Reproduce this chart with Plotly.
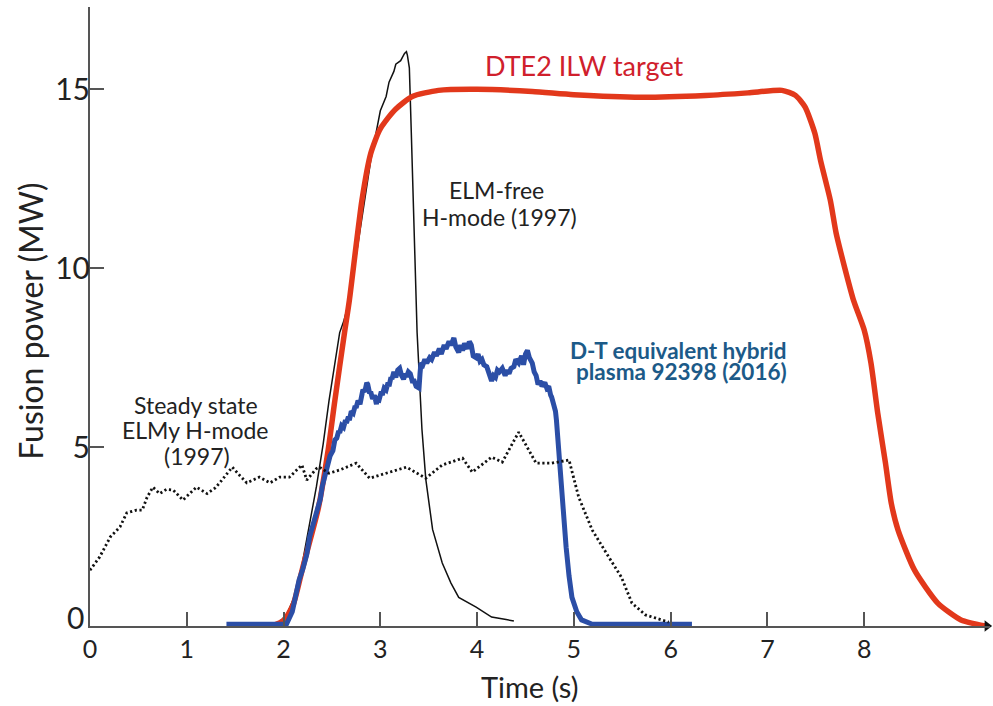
import plotly.graph_objects as go

# ---------------- data ----------------
target_t = [1.88, 2.0, 2.1, 2.2, 2.36, 2.46, 2.53, 2.63, 2.68, 2.81, 2.9, 2.99, 3.08, 3.16,
            3.33, 3.6, 4.0, 4.57, 5.0, 5.7, 6.36, 6.8, 7.15, 7.29, 7.39, 7.49, 7.55,
            7.65, 7.71, 7.80, 7.89, 8.0, 8.07, 8.14, 8.22, 8.28, 8.35, 8.52, 8.76, 9.0, 9.25]
target_p = [0.0, 0.15, 0.6, 1.65, 3.3, 4.9, 6.3, 8.2, 9.1, 11.9, 13.2, 13.85, 14.2, 14.45,
            14.8, 14.97, 15.0, 14.94, 14.85, 14.78, 14.83, 14.9, 14.97, 14.83, 14.5, 13.77,
            13.0, 11.9, 10.98, 10.0, 9.1, 8.27, 7.35, 5.95, 4.55, 3.43, 2.68, 1.56, 0.64,
            0.17, 0.0]

hybrid_t = [1.41, 2.03, 2.09, 2.16, 2.20, 2.24, 2.27, 2.30, 2.33, 2.35, 2.38, 2.40, 2.43,
            2.45, 2.48, 2.51, 2.53, 2.55, 2.57, 2.58, 2.60, 2.62, 2.64, 2.65, 2.67, 2.68,
            2.70, 2.72, 2.74, 2.75, 2.77, 2.79, 2.80, 2.82, 2.84, 2.86, 2.87, 2.89, 2.90,
            2.92, 2.94, 2.96, 2.97, 2.99, 3.01, 3.02, 3.04, 3.06, 3.08, 3.09, 3.11, 3.12,
            3.14, 3.16, 3.18, 3.20, 3.22, 3.24, 3.26, 3.27, 3.29, 3.31, 3.33, 3.35, 3.37,
            3.40, 3.41, 3.42, 3.44, 3.46, 3.48, 3.51, 3.53, 3.56, 3.58, 3.61, 3.63, 3.66,
            3.68, 3.71, 3.73, 3.76, 3.78, 3.81, 3.83, 3.85, 3.87, 3.90, 3.92, 3.94, 3.96,
            3.99, 4.01, 4.03, 4.05, 4.07, 4.10, 4.12, 4.15, 4.17, 4.19, 4.21, 4.23, 4.26,
            4.29, 4.31, 4.33, 4.35, 4.38, 4.40, 4.43, 4.46, 4.48, 4.50, 4.52, 4.54, 4.57,
            4.59, 4.61, 4.63, 4.65, 4.67, 4.70, 4.72, 4.74, 4.76, 4.77, 4.79, 4.81, 4.82,
            4.85, 4.89, 4.92, 4.95, 4.98, 5.03, 5.08, 5.19, 6.22]
hybrid_p = [0.05, 0.05, 0.4, 1.28, 1.6, 2.0, 2.5, 2.77, 3.1, 3.3, 3.55, 3.9, 4.2,
            4.4, 4.75, 4.9, 5.2, 5.25, 5.45, 5.4, 5.6, 5.55, 5.75, 5.67, 5.85, 5.75,
            6.0, 5.95, 6.15, 6.1, 6.3, 6.2, 6.3, 6.6, 6.55, 6.8, 6.75, 6.5, 6.55,
            6.35, 6.45, 6.2, 6.4, 6.35, 6.55, 6.45, 6.65, 6.6, 6.8, 6.7, 6.95, 6.9,
            7.1, 6.95, 7.15, 7.2, 7.0, 6.9, 7.05, 6.96, 7.1, 7.05, 6.85, 6.85, 6.7,
            6.65, 7.05, 7.35, 7.3, 7.45, 7.35, 7.5, 7.45, 7.65, 7.55, 7.75, 7.6, 7.85,
            7.75, 7.95, 7.85, 8.05, 7.8, 7.65, 7.85, 7.7, 7.9, 7.75, 7.95, 7.85, 7.55,
            7.5, 7.6, 7.4, 7.45, 7.3, 7.25, 7.05, 6.85, 7.0, 6.95, 7.15, 7.1, 7.2,
            7.0, 7.15, 7.05, 7.2, 7.25, 7.45, 7.35, 7.55, 7.3, 7.6, 7.7, 7.5, 7.35,
            7.1, 7.0, 6.75, 6.85, 6.7, 6.8, 6.65, 6.7, 6.45, 6.4, 6.2, 6.0, 5.75,
            4.55, 3.2, 2.2, 1.4, 0.8, 0.4, 0.17, 0.05, 0.05]

elmfree_t = [1.9, 1.99, 2.04, 2.14, 2.2, 2.27, 2.34, 2.41, 2.47, 2.58, 2.6, 2.62, 2.68,
             2.8, 2.9, 3.0, 3.06, 3.09, 3.14, 3.16, 3.21, 3.25, 3.27, 3.28, 3.30, 3.32,
             3.35, 3.38, 3.43, 3.47, 3.54, 3.64, 3.73, 3.81, 3.99, 4.15, 4.3, 4.38]
elmfree_p = [0.0, 0.2, 0.36, 1.0, 1.84, 2.9, 3.9, 5.1, 6.3, 8.2, 8.35, 8.5, 9.1,
             11.3, 13.0, 14.4, 14.8, 15.2, 15.5, 15.7, 15.8, 16.0, 16.05, 15.95, 15.6, 13.8,
             11.0, 8.2, 5.5, 4.1, 2.7, 1.76, 1.2, 0.8, 0.53, 0.25, 0.18, 0.14]

elmy_t = [0.0, 0.10, 0.21, 0.31, 0.38, 0.48, 0.54, 0.59, 0.65, 0.72, 0.79, 0.86, 0.96,
          1.03, 1.10, 1.21, 1.29, 1.34, 1.47, 1.55, 1.62, 1.75, 1.86, 1.96, 2.06, 2.19,
          2.24, 2.34, 2.37, 2.47, 2.58, 2.75, 2.89, 3.06, 3.27, 3.47, 3.64, 3.85, 3.95,
          4.15, 4.26, 4.43, 4.61, 4.77, 4.95, 5.05, 5.19, 5.36, 5.49, 5.60, 5.74, 5.98]
elmy_p = [1.56, 1.93, 2.49, 2.77, 3.16, 3.24, 3.24, 3.6, 3.88, 3.7, 3.82, 3.8, 3.52,
          3.7, 3.88, 3.7, 3.85, 4.0, 4.44, 4.2, 4.0, 4.16, 4.0, 4.16, 4.16, 4.5,
          4.08, 4.4, 4.44, 4.27, 4.36, 4.55, 4.13, 4.27, 4.44, 4.13, 4.5, 4.69, 4.3,
          4.72, 4.58, 5.42, 4.55, 4.55, 4.64, 3.6, 2.68, 1.93, 1.37, 0.64, 0.31, 0.11]

x_ticks = [0, 1, 2, 3, 4, 5, 6, 7, 8]
y_ticks = [0, 5, 10, 15]
y_tick_text = ["", "5", "10", "15"]   # the "0" label sits slightly above the axis
x_range = [0, 9.3]
y_range = [0, 17.3]

FONT = "Lato"
AXIS_COLOR = "#555555"
TEXT_COLOR = "#222222"

fig = go.Figure()

# (the dotted series lives on the label-carrying overlay axis; same range as y)
fig.add_trace(go.Scatter(x=elmy_t, y=elmy_p, mode="lines", yaxis="y2",
                         line=dict(color="#111111", width=2.8, dash="2.2px,2.6px"),
                         hoverinfo="skip"))
fig.add_trace(go.Scatter(x=elmfree_t, y=elmfree_p, mode="lines",
                         line=dict(color="#111111", width=1.5),
                         hoverinfo="skip"))
fig.add_trace(go.Scatter(x=target_t, y=target_p, mode="lines",
                         line=dict(color="#e2381b", width=5.5, shape="spline", smoothing=0.6),
                         hoverinfo="skip"))
fig.add_trace(go.Scatter(x=hybrid_t, y=hybrid_p, mode="lines",
                         line=dict(color="#2b4ea6", width=5),
                         hoverinfo="skip"))
# arrow head at the end of the time axis
fig.add_trace(go.Scatter(x=[x_range[1] - 0.03], y=[0], mode="markers",
                         marker=dict(symbol="triangle-right", size=10, color="#111111"),
                         cliponaxis=False, hoverinfo="skip"))

ann = dict(showarrow=False, xanchor="center", yanchor="middle")
fig.add_annotation(x=5.11, y=15.67, text="DTE2 ILW target",
                   font=dict(family=FONT, size=27, color="#d0202c"), **ann)
fig.add_annotation(x=4.20, y=12.18, text="ELM-free",
                   font=dict(family=FONT, size=23, color=TEXT_COLOR), **ann)
fig.add_annotation(x=4.23, y=11.42, text="H-mode (1997)",
                   font=dict(family=FONT, size=23, color=TEXT_COLOR), **ann)
fig.add_annotation(x=1.10, y=6.17, text="Steady state",
                   font=dict(family=FONT, size=23, color=TEXT_COLOR), **ann)
fig.add_annotation(x=1.08, y=5.47, text="ELMy H-mode",
                   font=dict(family=FONT, size=23, color=TEXT_COLOR), **ann)
fig.add_annotation(x=1.11, y=4.75, text="(1997)",
                   font=dict(family=FONT, size=23, color=TEXT_COLOR), **ann)
fig.add_annotation(x=6.08, y=7.71, text="<b>D-T equivalent hybrid</b>",
                   font=dict(family=FONT, size=22.5, color="#1c5a88"), **ann)
fig.add_annotation(x=6.11, y=7.12, text="<b>plasma 92398 (2016)</b>",
                   font=dict(family=FONT, size=22.5, color="#1c5a88"), **ann)

# y tick label "0", lifted just above the time axis
fig.add_annotation(xref="paper", x=-0.0045, y=0.25, text="0", showarrow=False,
                   xanchor="right", yanchor="middle",
                   font=dict(family=FONT, size=30, color=TEXT_COLOR))

fig.add_annotation(xref="x", yref="paper", x=4.54, y=-0.0977, text="Time (s)",
                   font=dict(family=FONT, size=29, color=TEXT_COLOR), **ann)
fig.add_annotation(xref="paper", yref="paper", x=-0.0656, y=0.493, text="Fusion power (MW)",
                   textangle=-90, font=dict(family=FONT, size=32, color=TEXT_COLOR), **ann)

fig.update_layout(
    width=993, height=706,
    margin=dict(l=90, r=3, t=7, b=80),
    paper_bgcolor="white", plot_bgcolor="white",
    showlegend=False,
    font=dict(family=FONT, color=TEXT_COLOR),
    xaxis=dict(range=x_range, tickvals=x_ticks, showgrid=False, zeroline=False,
               showline=True, linecolor=AXIS_COLOR, linewidth=1.5,
               ticks="inside", ticklen=14, tickwidth=1.5, tickcolor=AXIS_COLOR,
               tickfont=dict(family=FONT, size=25, color=TEXT_COLOR)),
    yaxis=dict(range=y_range, tickvals=y_ticks, showticklabels=False,
               showgrid=False, zeroline=False,
               showline=True, linecolor=AXIS_COLOR, linewidth=1.5,
               ticks="inside", ticklen=14, tickwidth=1.5, tickcolor=AXIS_COLOR),
    # label-carrying copy of the power axis (no ticks, so numbers sit close to the line)
    yaxis2=dict(range=y_range, tickvals=y_ticks, ticktext=y_tick_text,
                overlaying="y", anchor="free", position=0.0, side="left",
                showgrid=False, zeroline=False, showline=False, ticks="",
                tickfont=dict(family=FONT, size=30, color=TEXT_COLOR)),
)

fig.write_html("out.html", config={"displayModeBar": False},
               post_script="document.body.style.margin='0px';")
